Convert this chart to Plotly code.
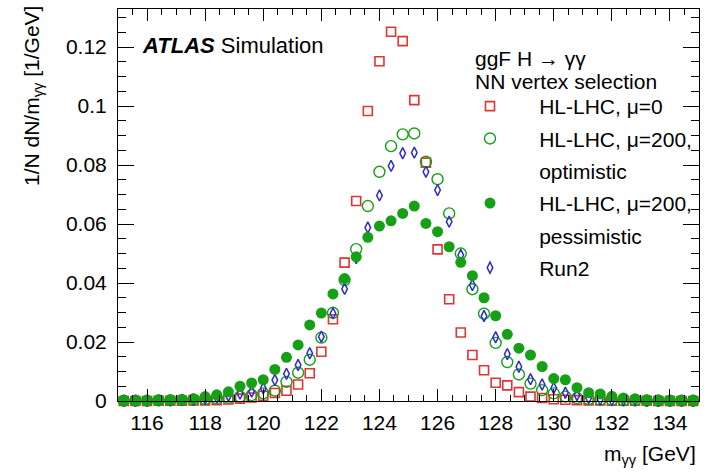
import plotly.graph_objects as go

# Bin centres of m_gg [GeV] (0.4 GeV bins, 115-135 GeV)
m_gg = [115.2, 115.6, 116.0, 116.4, 116.8, 117.2, 117.6, 118.0, 118.4, 118.8,
        119.2, 119.6, 120.0, 120.4, 120.8, 121.2, 121.6, 122.0, 122.4, 122.8,
        123.2, 123.6, 124.0, 124.4, 124.8, 125.2, 125.6, 126.0, 126.4, 126.8,
        127.2, 127.6, 128.0, 128.4, 128.8, 129.2, 129.6, 130.0, 130.4, 130.8,
        131.2, 131.6, 132.0, 132.4, 132.8, 133.2, 133.6, 134.0, 134.4, 134.8]

hllhc_mu0 = [0.0000, 0.0000, 0.0000, 0.0001, 0.0001, 0.0001, 0.0002, 0.0002, 0.0003, 0.0005,
             0.0008, 0.0012, 0.0018, 0.0027, 0.0035, 0.0056, 0.0094, 0.0167, 0.0277, 0.0469,
             0.0678, 0.0983, 0.1152, 0.1252, 0.1220, 0.1020, 0.0808, 0.0514, 0.0345, 0.0232,
             0.0156, 0.0104, 0.0062, 0.0053, 0.0030, 0.0015, 0.0010, 0.0006, 0.0004, 0.0003,
             0.0002, 0.0002, 0.0001, 0.0001, 0.0001, 0.0001, 0.0000, 0.0000, 0.0000, 0.0000]

hllhc_mu200_opt = [0.0001, 0.0001, 0.0001, 0.0002, 0.0002, 0.0003, 0.0004, 0.0006, 0.0008, 0.0011,
                   0.0015, 0.0020, 0.0026, 0.0035, 0.0065, 0.0096, 0.0140, 0.0215, 0.0299, 0.0410,
                   0.0515, 0.0661, 0.0777, 0.0864, 0.0904, 0.0907, 0.0811, 0.0752, 0.0636, 0.0500,
                   0.0379, 0.0296, 0.0197, 0.0132, 0.0090, 0.0059, 0.0037, 0.0026, 0.0015, 0.0010,
                   0.0006, 0.0004, 0.0003, 0.0002, 0.0002, 0.0001, 0.0001, 0.0001, 0.0001, 0.0001]

hllhc_mu200_pess = [0.0001, 0.0001, 0.0002, 0.0003, 0.0004, 0.0004, 0.0008, 0.0015, 0.0021, 0.0031,
                    0.0050, 0.0061, 0.0072, 0.0107, 0.0148, 0.0190, 0.0258, 0.0298, 0.0363, 0.0415,
                    0.0489, 0.0555, 0.0593, 0.0611, 0.0636, 0.0661, 0.0602, 0.0574, 0.0523, 0.0470,
                    0.0425, 0.0350, 0.0289, 0.0226, 0.0179, 0.0156, 0.0117, 0.0076, 0.0072, 0.0045,
                    0.0028, 0.0024, 0.0016, 0.0010, 0.0008, 0.0004, 0.0003, 0.0002, 0.0002, 0.0002]

run2 = [0.0001, 0.0001, 0.0001, 0.0002, 0.0002, 0.0003, 0.0005, 0.0008, 0.0012, 0.0018,
        0.0025, 0.0032, 0.0043, 0.0071, 0.0092, 0.0122, 0.0162, 0.0218, 0.0297, 0.0380,
        0.0485, 0.0588, 0.0697, 0.0797, 0.0840, 0.0842, 0.0777, 0.0715, 0.0608, 0.0495,
        0.0393, 0.0288, 0.0216, 0.0159, 0.0116, 0.0074, 0.0056, 0.0044, 0.0028, 0.0020,
        0.0010, 0.0005, 0.0003, 0.0002, 0.0002, 0.0001, 0.0001, 0.0001, 0.0001, 0.0001]

y_tickvals = [0, 0.02, 0.04, 0.06, 0.08, 0.10, 0.12]
y_ticktext = ["0", "0.02", "0.04", "0.06", "0.08", "0.1", "0.12"]
x_tickvals = [116, 118, 120, 122, 124, 126, 128, 130, 132, 134]
x_ticktext = ["116", "118", "120", "122", "124", "126", "128", "130", "132", "134"]

RED = "rgb(226,52,52)"
GREEN = "rgb(22,160,22)"
BLUE = "rgb(45,45,205)"
FONT = "Liberation Sans, Arial, sans-serif"
IND = "\u00a0" * 5


def px_x(p):
    return (p - 118) / 581


def px_y(p):
    return (401 - p) / 392


fig = go.Figure()

fig.add_trace(go.Scatter(
    x=m_gg, y=hllhc_mu0, mode="markers", name=IND + "HL-LHC, \u03bc=0",
    legendrank=1, legendgroup="a", cliponaxis=False,
    marker=dict(symbol="square-open", size=9, color=RED, line=dict(width=1.6, color=RED))))
fig.add_trace(go.Scatter(
    x=m_gg, y=hllhc_mu200_opt, mode="markers", name=IND + "HL-LHC, \u03bc=200,",
    legendrank=2, legendgroup="b", cliponaxis=False,
    marker=dict(symbol="circle-open", size=11, color=GREEN, line=dict(width=1.4, color=GREEN))))
fig.add_trace(go.Scatter(
    x=m_gg, y=run2, mode="markers", name=IND + "Run2",
    legendrank=7, legendgroup="g", cliponaxis=False,
    marker=dict(symbol="diamond-tall-open", size=8, color=BLUE, line=dict(width=1.5, color=BLUE))))
fig.add_trace(go.Scatter(
    x=m_gg, y=hllhc_mu200_pess, mode="markers", name=IND + "HL-LHC, \u03bc=200,",
    legendrank=4, legendgroup="d", cliponaxis=False,
    marker=dict(symbol="circle", size=11, color=GREEN, line=dict(width=0))))
# continuation lines of the two-line legend labels (no marks)
fig.add_trace(go.Scatter(x=[None], y=[None], mode="markers", name=IND + "optimistic",
                         legendrank=3, legendgroup="c", hoverinfo="skip",
                         marker=dict(size=1, color="rgba(0,0,0,0)", line=dict(width=0))))
fig.add_trace(go.Scatter(x=[None], y=[None], mode="markers", name=IND + "pessimistic",
                         legendrank=5, legendgroup="e", hoverinfo="skip",
                         marker=dict(size=1, color="rgba(0,0,0,0)", line=dict(width=0))))

axis_common = dict(showline=True, linecolor="black", linewidth=1, mirror="allticks",
                   ticks="inside", tickcolor="black", showgrid=False, zeroline=False,
                   tickfont=dict(family=FONT, size=21, color="black"))

fig.update_xaxes(range=[115, 135], tickvals=x_tickvals, ticktext=x_ticktext, ticklen=12,
                 minor=dict(dtick=0.5, tick0=115, ticks="inside", ticklen=6, tickcolor="black"),
                 ticklabelstandoff=3, **axis_common)
fig.update_yaxes(range=[0, 0.1329], tickvals=y_tickvals, ticktext=y_ticktext, ticklen=16,
                 minor=dict(dtick=0.005, tick0=0, ticks="inside", ticklen=8, tickcolor="black"),
                 ticklabelstandoff=6, **axis_common)

fig.update_layout(
    width=715, height=472,
    margin=dict(l=118, r=16, t=9, b=71),
    paper_bgcolor="white", plot_bgcolor="white",
    font=dict(family=FONT, size=21, color="black"),
    legend=dict(x=px_x(470), y=px_y(86), xanchor="left", yanchor="top",
                bgcolor="rgba(0,0,0,0)", font=dict(family=FONT, size=21),
                traceorder="grouped", tracegroupgap=2, valign="middle"),
    annotations=[
        dict(text="<b><i>ATLAS</i></b> Simulation", xref="paper", yref="paper",
             x=px_x(140), y=px_y(46), xanchor="left", yanchor="middle",
             showarrow=False, font=dict(family=FONT, size=22, color="black")),
        dict(text="ggF H \u2192 \u03b3\u03b3", xref="paper", yref="paper",
             x=px_x(473), y=px_y(58), xanchor="left", yanchor="middle",
             showarrow=False, font=dict(family=FONT, size=21, color="black")),
        dict(text="NN vertex selection", xref="paper", yref="paper",
             x=px_x(473), y=px_y(82), xanchor="left", yanchor="middle",
             showarrow=False, font=dict(family=FONT, size=21, color="black")),
        dict(text="1/N dN/m<sub>\u03b3\u03b3</sub> [1/GeV]", xref="paper", yref="paper",
             x=px_x(33), y=px_y(4), xanchor="center", yanchor="top",
             textangle=-90, showarrow=False, font=dict(family=FONT, size=21, color="black")),
        dict(text="m<sub>\u03b3\u03b3</sub> [GeV]", xref="paper", yref="paper",
             x=px_x(698), y=px_y(455), xanchor="right", yanchor="middle",
             showarrow=False, font=dict(family=FONT, size=21, color="black")),
    ],
)

fig.write_html("out.html")
